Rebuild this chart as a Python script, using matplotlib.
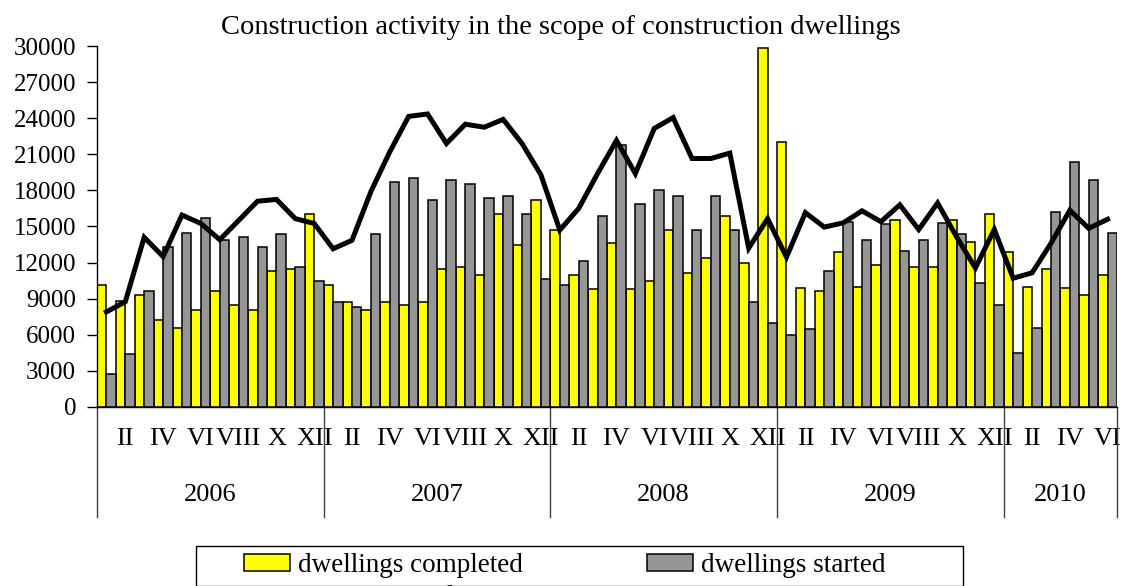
import matplotlib.pyplot as plt
import numpy as np
from matplotlib.patches import Rectangle

# monthly values, Jan 2006 .. Jun 2010
completed = [10100, 8800, 9300, 7200, 6600, 8100, 9600, 8500, 8100, 11300, 11500, 16000,
             10100, 8750, 8100, 8750, 8450, 8750, 11500, 11650, 11000, 16000, 13450, 17200,
             14700, 11000, 9800, 13650, 9800, 10500, 14700, 11150, 12350, 15850, 12000, 29800,
             22050, 9850, 9600, 12850, 10000, 11800, 15500, 11600, 11600, 15500, 13700, 16050,
             12850, 10000, 11500, 9850, 9300, 11000]
started = [2700, 4400, 9600, 13300, 14500, 15700, 13900, 14150, 13300, 14400, 11650, 10500,
           8750, 8300, 14400, 18700, 19050, 17200, 18850, 18550, 17350, 17550, 16050, 10650,
           10150, 12150, 15850, 21750, 16850, 18000, 17500, 14700, 17500, 14700, 8750, 6950,
           5950, 6450, 11300, 15400, 13850, 15200, 13000, 13850, 15300, 14400, 10300, 8450,
           4450, 6600, 16200, 20400, 18850, 14500]
permits = [7900, 8750, 14100, 12500, 15950, 15250, 13900, 15500, 17100, 17250, 15650, 15250,
           13150, 13850, 17900, 21200, 24150, 24350, 21900, 23500, 23250, 23900, 21900, 19300,
           14700, 16500, 19400, 22150, 19400, 23150, 24050, 20650, 20650, 21100, 13200, 15650,
           12450, 16150, 14950, 15300, 16300, 15400, 16800, 14750, 16950, 14150, 11550, 14750,
           10700, 11150, 13600, 16350, 14850, 15600]

years = ["2006", "2007", "2008", "2009", "2010"]
months_per_year = [12, 12, 12, 12, 6]
roman = ["I", "II", "III", "IV", "V", "VI", "VII", "VIII", "IX", "X", "XI", "XII"]

plt.rcParams["font.family"] = ["Liberation Serif", "DejaVu Serif"]

W, H = 1121, 586
fig = plt.figure(figsize=(W / 100, H / 100), dpi=100)
ax = fig.add_axes([0.0865, 0.3055, 0.9100, 0.616])

x = np.arange(len(completed))
w = 0.5
b1 = ax.bar(x - w / 2, completed, width=w, color="#ffff00", edgecolor="black",
            linewidth=1.1, label="dwellings completed")
b2 = ax.bar(x + w / 2, started, width=w, color="#969696", edgecolor="black",
            linewidth=1.1, label="dwellings started")
ln, = ax.plot(x, permits, color="black", linewidth=3.6, solid_joinstyle="miter",
              label="permits issued")

ax.set_xlim(-0.5, len(completed) - 0.5)
ax.set_ylim(0, 30000)
ax.set_yticks(np.arange(0, 30001, 3000))
ax.tick_params(axis="y", labelsize=18, length=7, width=1, direction="out", pad=8)
for s in ["top", "right"]:
    ax.spines[s].set_visible(False)
ax.spines["left"].set_linewidth(1)
ax.spines["bottom"].set_linewidth(1)

# month labels: every second month
month_names = []
for n in months_per_year:
    month_names += roman[:n]
ax.set_xticks(x[1::2], month_names[1::2])
ax.tick_params(axis="x", length=0, labelsize=19, pad=15)

# year labels and separators below the axis
trans = ax.get_xaxis_transform()
start = 0
bounds = [-0.5]
for yr, n in zip(years, months_per_year):
    ax.text(start + (n - 1) / 2, -0.245, yr, transform=trans, ha="center", va="center",
            fontsize=19)
    start += n
    bounds.append(start - 0.5)
for bx in bounds:
    ax.plot([bx, bx], [0, -0.305], transform=trans, color="#404040", linewidth=1,
            clip_on=False)

fig.text(0.5, 1 - 27 / H, "Construction activity in the scope of construction dwellings",
         ha="center", va="center", fontsize=20.5)

# legend frame drawn by hand so the side padding can differ from the top padding
fig.patches.append(Rectangle((196 / W, 0), (963 - 196) / W, (H - 546) / H,
                             transform=fig.transFigure, facecolor="white",
                             edgecolor="black", linewidth=1, zorder=0))
fig.legend([b1, ln, b2], ["dwellings completed", "permits issued", "dwellings started"],
           ncol=2, loc="upper left",
           bbox_to_anchor=(244 / W, (H - 553) / H, (886 - 244) / W, 0),
           mode="expand", fontsize=19.5, frameon=False,
           handlelength=1.7, handleheight=0.55, borderpad=0, borderaxespad=0,
           handletextpad=0.3, labelspacing=0.25)

fig.savefig("out.png", dpi=100)
